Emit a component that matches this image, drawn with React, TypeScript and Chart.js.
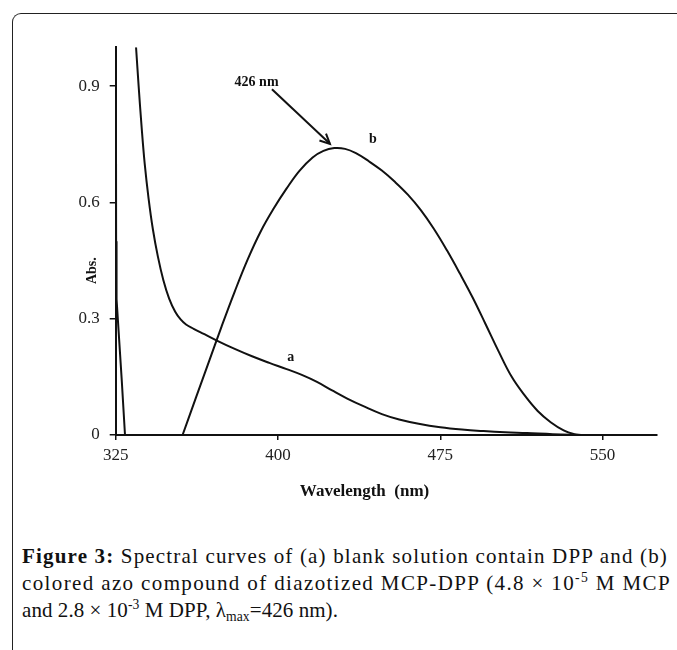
import React, { useEffect, useLayoutEffect, useRef } from "react";
import { Chart, registerables } from "chart.js";

Chart.register(...registerables);

// ---- data (wavelength nm, absorbance) ----
const curveAWave = [334.4, 335.6, 336.9, 338.4, 340.2, 342.2, 344.5, 347.0, 349.7, 352.5, 355, 357.5, 361, 366, 372, 380, 388, 396, 404, 411, 418, 425, 432, 440, 448, 456, 465, 475, 485, 495, 505, 515, 527, 540];
const curveAAbs = [1.0, 0.9, 0.8, 0.7, 0.61, 0.53, 0.46, 0.4, 0.352, 0.318, 0.298, 0.285, 0.274, 0.26, 0.243, 0.222, 0.203, 0.186, 0.17, 0.155, 0.137, 0.115, 0.094, 0.073, 0.054, 0.04, 0.029, 0.02, 0.014, 0.01, 0.007, 0.005, 0.002, 0.0];

const curveBWave = [355.9, 362, 368, 374, 380, 386, 392, 398, 404, 410, 416, 421, 426, 431, 436, 442, 448, 454, 460, 466, 472, 478, 484, 490, 496, 502, 508, 514, 520, 526, 532, 537, 540];
const curveBAbs = [0.0, 0.095, 0.188, 0.281, 0.37, 0.453, 0.525, 0.584, 0.636, 0.682, 0.716, 0.733, 0.74, 0.738, 0.727, 0.706, 0.682, 0.653, 0.62, 0.58, 0.532, 0.477, 0.417, 0.354, 0.285, 0.215, 0.15, 0.102, 0.062, 0.033, 0.012, 0.002, 0.0];

const edgeWave = [325.1, 325.2, 325.4, 327.8, 329.3];
const edgeAbs = [1.0, 0.5, 0.35, 0.141, 0.0];

const xTicks = [325, 400, 475, 550];
const yTicks = [0, 0.3, 0.6, 0.9];
const xRange = [325, 575];
const yRange = [0, 1.0];

// annotation anchors (data units)
const peakLabel = { text: "426 nm", x: 390.1, y: 0.91 };
const arrowFrom = { x: 397.2, y: 0.892 };
const arrowTo = { x: 424, y: 0.751 };
const labelA = { text: "a", x: 405.9, y: 0.199 };
const labelB = { text: "b", x: 443.9, y: 0.763 };
const xTitle = { text: "Wavelength  (nm)", x: 440 };
const yTitle = { text: "Abs.", y: 0.424 };

const SERIF = "'Liberation Serif', 'Times New Roman', serif";

const toPts = (xs: number[], ys: number[]) => xs.map((x, i) => ({ x, y: ys[i] }));

const annotate = {
  id: "annotate",
  afterDraw(chart: any) {
    const { ctx, scales } = chart;
    const xs = scales.x;
    const ys = scales.y;
    const px = (v: number) => xs.getPixelForValue(v);
    const py = (v: number) => ys.getPixelForValue(v);
    ctx.save();
    ctx.fillStyle = "#111";
    ctx.strokeStyle = "#111";
    ctx.textAlign = "center";
    ctx.textBaseline = "middle";
    ctx.font = `bold 14px ${SERIF}`;
    ctx.fillText(peakLabel.text, px(peakLabel.x), py(peakLabel.y));
    ctx.fillText(labelA.text, px(labelA.x), py(labelA.y));
    ctx.fillText(labelB.text, px(labelB.x), py(labelB.y));

    // arrow
    const x1 = px(arrowFrom.x), y1 = py(arrowFrom.y);
    const x2 = px(arrowTo.x), y2 = py(arrowTo.y);
    ctx.lineWidth = 2;
    ctx.beginPath();
    ctx.moveTo(x1, y1);
    ctx.lineTo(x2, y2);
    ctx.stroke();
    const ang = Math.atan2(y2 - y1, x2 - x1);
    const hl = 11;
    ctx.beginPath();
    ctx.moveTo(x2 - hl * Math.cos(ang - 0.45), y2 - hl * Math.sin(ang - 0.45));
    ctx.lineTo(x2, y2);
    ctx.lineTo(x2 - hl * Math.cos(ang + 0.45), y2 - hl * Math.sin(ang + 0.45));
    ctx.stroke();

    // axis titles
    ctx.font = `bold 17px ${SERIF}`;
    ctx.fillText(xTitle.text, px(xTitle.x), 492);
    ctx.save();
    ctx.translate(92, py(yTitle.y));
    ctx.rotate(-Math.PI / 2);
    ctx.font = `bold 14px ${SERIF}`;
    ctx.fillText(yTitle.text, 0, 0);
    ctx.restore();
    ctx.restore();
  },
};

function SpectrumChart() {
  const ref = useRef<HTMLCanvasElement | null>(null);
  useEffect(() => {
    if (!ref.current) return;
    const lineStyle = {
      borderColor: "#111",
      borderWidth: 2,
      pointRadius: 0,
      fill: false,
      tension: 0.4,
    };
    const chart = new Chart(ref.current, {
      type: "line",
      data: {
        datasets: [
          { label: "a", data: toPts(curveAWave, curveAAbs), ...lineStyle },
          { label: "b", data: toPts(curveBWave, curveBAbs), ...lineStyle },
          { label: "edge", data: toPts(edgeWave, edgeAbs), ...lineStyle, tension: 0 },
        ],
      },
      options: {
        animation: false,
        responsive: false,
        devicePixelRatio: 1,
        layout: { padding: { left: 0, right: 20.3, top: 47.3, bottom: 0 } },
        plugins: { legend: { display: false }, tooltip: { enabled: false } },
        scales: {
          x: {
            type: "linear",
            min: xRange[0],
            max: xRange[1],
            afterBuildTicks: (s: any) => {
              s.ticks = xTicks.map((v) => ({ value: v }));
            },
            afterFit: (s: any) => {
              s.height = 85;
            },
            grid: { drawOnChartArea: false, drawTicks: true, tickLength: 5, color: "#111", lineWidth: 1.5 },
            border: { display: true, color: "#111", width: 2 },
            ticks: {
              font: { family: SERIF, size: 17 },
              color: "#222",
              padding: 5,
              maxRotation: 0,
              callback: (v: any) => String(v),
            },
          },
          y: {
            type: "linear",
            min: yRange[0],
            max: yRange[1],
            afterBuildTicks: (s: any) => {
              s.ticks = yTicks.map((v) => ({ value: v }));
            },
            afterFit: (s: any) => {
              s.width = 115.7;
            },
            grid: { drawOnChartArea: false, drawTicks: true, tickLength: 6, color: "#111", lineWidth: 1.5 },
            border: { display: true, color: "#111", width: 2 },
            ticks: {
              font: { family: SERIF, size: 17 },
              color: "#222",
              padding: 10,
              callback: (v: any) => (v === 0 ? "0" : Number(v).toFixed(1)),
            },
          },
        },
      },
      plugins: [annotate],
    });
    return () => chart.destroy();
  }, []);
  return (
    <canvas
      ref={ref}
      width={677}
      height={520}
      style={{ position: "absolute", left: 0, top: 0, width: 677, height: 520 }}
    />
  );
}

const captionRight = [668, 671, 338];

export default function App() {
  const r1 = useRef<HTMLDivElement | null>(null);
  const r2 = useRef<HTMLDivElement | null>(null);
  const r3 = useRef<HTMLDivElement | null>(null);
  useLayoutEffect(() => {
    [r1, r2, r3].forEach((r, i) => {
      const el = r.current;
      if (!el) return;
      el.style.letterSpacing = "0px";
      const rect = el.getBoundingClientRect();
      const n = (el.textContent || "").length;
      const target = captionRight[i] - rect.left;
      el.style.letterSpacing = `${(target - rect.width) / n}px`;
    });
  }, []);
  const lineStyle: React.CSSProperties = {
    position: "absolute",
    left: 22,
    whiteSpace: "nowrap",
    fontFamily: SERIF,
    fontSize: 21,
    lineHeight: "27px",
    color: "#111",
  };
  const sup: React.CSSProperties = { fontSize: "0.65em", position: "relative", top: "-0.6em" };
  const sub: React.CSSProperties = { fontSize: "0.65em", position: "relative", top: "0.3em" };
  return (
    <div style={{ position: "fixed", left: 0, top: 0, width: 677, height: 650, overflow: "hidden", background: "#fff" }}>
      <div
        style={{
          position: "absolute",
          left: 12,
          top: 13,
          width: 720,
          height: 700,
          borderTop: "1.5px solid #222",
          borderLeft: "1.5px solid #222",
          borderTopLeftRadius: 9,
        }}
      />
      <SpectrumChart />
      <div ref={r1} style={{ ...lineStyle, top: 543 }}>
        <b>Figure 3:</b> Spectral curves of (a) blank solution contain DPP and (b)
      </div>
      <div ref={r2} style={{ ...lineStyle, top: 570 }}>
        colored azo compound of diazotized MCP-DPP (4.8 × 10<span style={sup}>-5</span> M MCP
      </div>
      <div ref={r3} style={{ ...lineStyle, top: 597 }}>
        and 2.8 × 10<span style={sup}>-3</span> M DPP, λ<span style={sub}>max</span>=426 nm).
      </div>
    </div>
  );
}
